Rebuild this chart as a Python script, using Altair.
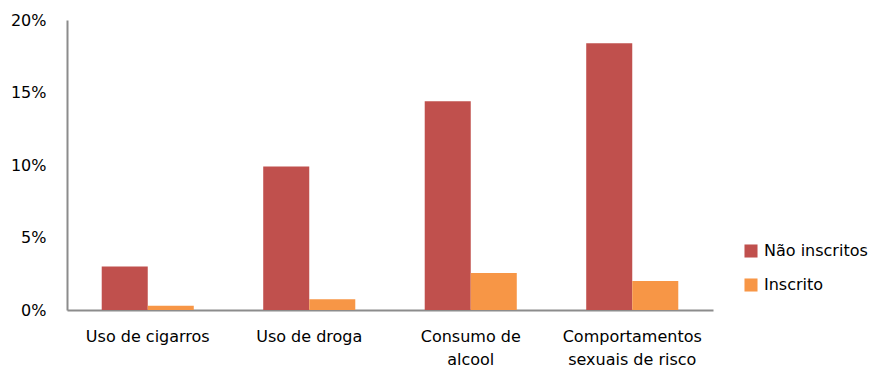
import altair as alt
import pandas as pd

categories = ["Uso de cigarros", "Uso de droga", "Consumo de\nalcool", "Comportamentos\nsexuais de  risco"]
series = ["Não inscritos", "Inscrito"]
nao_inscritos = [3.0, 9.9, 14.4, 18.4]
inscrito = [0.3, 0.75, 2.55, 2.0]
y_ticks = [0, 5, 10, 15, 20]
colors = ["#C0504D", "#F79646"]

rows = []
for c, a, b in zip(categories, nao_inscritos, inscrito):
    rows.append({"cat": c, "serie": series[0], "val": a / 100})
    rows.append({"cat": c, "serie": series[1], "val": b / 100})
df = pd.DataFrame(rows)

font = "DejaVu Sans"
fs = 16

chart = alt.Chart(df).mark_bar().encode(
    x=alt.X("cat:N", sort=categories,
            scale=alt.Scale(paddingInner=0.43, paddingOuter=0.215),
            axis=alt.Axis(title=None, labelAngle=0, ticks=False, grid=False,
                          labelExpr="split(datum.label, '\\n')",
                          labelFont=font, labelFontSize=fs, labelColor="#000000",
                          labelPadding=18, labelLineHeight=23, labelBaseline="top",
                          domainColor="#8C8C8C", domainWidth=2)),
    xOffset=alt.XOffset("serie:N", sort=series),
    y=alt.Y("val:Q", scale=alt.Scale(domain=[0, 0.2], nice=False),
            axis=alt.Axis(title=None, format=".0%", values=[v / 100 for v in y_ticks],
                          ticks=False, grid=False, labelFont=font, labelFontSize=fs,
                          labelColor="#000000", labelPadding=21,
                          domainColor="#8C8C8C", domainWidth=2)),
    color=alt.Color("serie:N", sort=series,
                    scale=alt.Scale(domain=series, range=colors),
                    legend=alt.Legend(title=None, orient="none", legendX=676, legendY=223,
                                      symbolType="square", symbolSize=170,
                                      symbolStrokeWidth=0, rowPadding=18,
                                      labelFont=font, labelFontSize=fs,
                                      labelColor="#000000", labelOffset=5)),
).properties(
    width=646, height=290,
    autosize=alt.AutoSizeParams(type="none"),
    padding={"left": 67, "top": 20, "right": 159, "bottom": 59},
).configure(background="#FFFFFF").configure_view(stroke=None)

chart.save("out.html", embed_options={"renderer": "svg", "actions": False})
